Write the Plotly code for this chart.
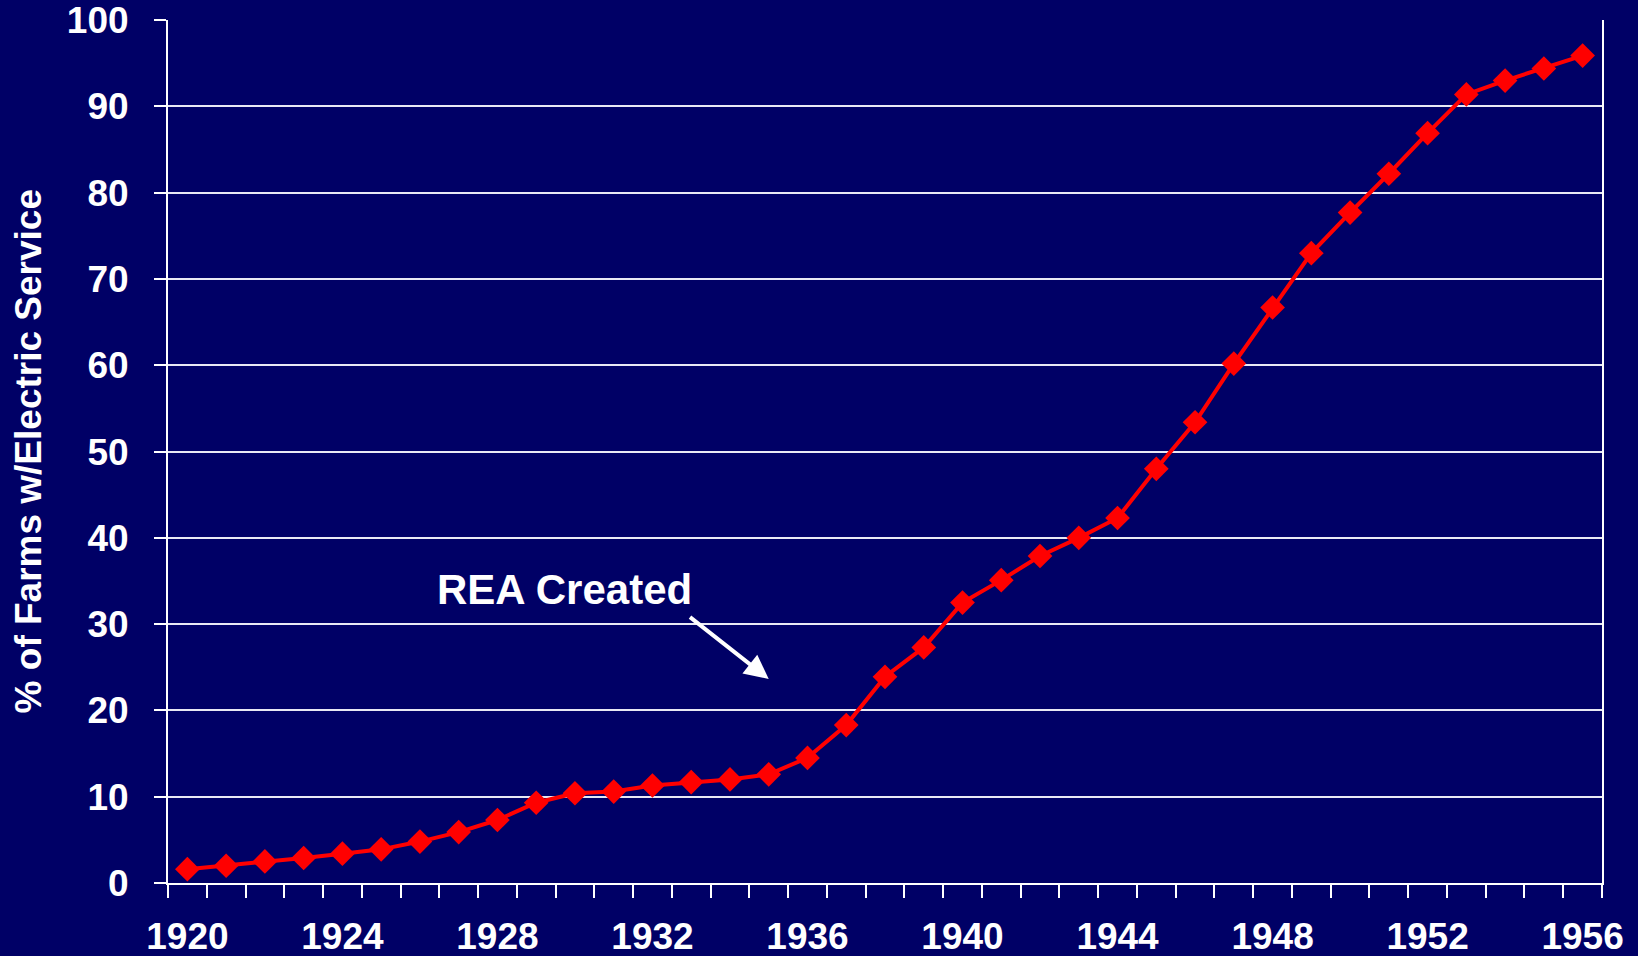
import plotly.graph_objects as go

years = list(range(1920, 1957))
pct_electric = [1.6, 2.0, 2.5, 2.9, 3.4, 3.9, 4.8, 5.9, 7.3, 9.3,
                10.4, 10.6, 11.3, 11.7, 12.0, 12.6, 14.5, 18.3, 23.9, 27.3,
                32.5, 35.1, 37.9, 40.0, 42.3, 48.0, 53.4, 60.2, 66.7, 73.0,
                77.7, 82.2, 86.9, 91.4, 93.0, 94.4, 95.9]
x_tick_years = [1920, 1924, 1928, 1932, 1936, 1940, 1944, 1948, 1952, 1956]
y_ticks = list(range(0, 101, 10))

BG = "#000066"
FONT = "Liberation Sans, Arial, sans-serif"

fig = go.Figure()
fig.add_trace(go.Scatter(
    x=years, y=pct_electric, mode="lines+markers",
    line=dict(color="#FF0000", width=4),
    marker=dict(symbol="diamond", size=19, color="#FF0000"),
    showlegend=False, hoverinfo="x+y",
))

fig.update_layout(
    template="none",
    width=1638, height=956,
    paper_bgcolor=BG, plot_bgcolor=BG,
    margin=dict(l=168, r=36, t=20, b=73, autoexpand=False),
    font=dict(family=FONT, color="white"),
    xaxis=dict(
        automargin=False,
        range=[years[0] - 0.5, years[-1] + 0.5],
        tickvals=x_tick_years, ticktext=[str(v) for v in x_tick_years],
        ticks="", showgrid=False, zeroline=False,
        showline=True, linecolor="white", linewidth=2,
        tickfont=dict(size=37, family=FONT, color="white", weight="bold"),
        ticklabelstandoff=20,
        minor=dict(tick0=years[0] - 0.5, dtick=1, ticks="outside",
                   ticklen=13, tickwidth=2, tickcolor="white", showgrid=False),
    ),
    yaxis=dict(
        automargin=False,
        range=[0, 100.02], tickvals=y_ticks,
        ticks="outside", ticklen=12, tickwidth=2, tickcolor="white",
        showgrid=True, gridcolor="#E8E8F4", gridwidth=2, zeroline=False,
        showline=True, linecolor="white", linewidth=2, mirror=True,
        tickfont=dict(size=37, family=FONT, color="white", weight="bold"),
        ticklabelstandoff=18,
    ),
)

fig.add_annotation(
    xref="paper", yref="paper", x=-0.097, y=0.5,
    text="<b>% of Farms w/Electric Service</b>", textangle=-90,
    showarrow=False, font=dict(size=37, family=FONT, color="white"),
    xanchor="center", yanchor="middle",
)
fig.add_annotation(
    x=1929.74, y=34.0, text="<b>REA Created</b>", showarrow=False,
    font=dict(size=42, family=FONT, color="white"),
    xanchor="center", yanchor="middle",
)
fig.add_annotation(
    x=1935.0, y=23.65, ax=1932.93, ay=30.95, axref="x", ayref="y",
    text="", showarrow=True, arrowhead=2, arrowsize=1.2, arrowwidth=4,
    arrowcolor="white",
)

fig.write_html(
    "out.html",
    config={"displayModeBar": False},
    post_script="document.body.style.margin='0';"
                "document.body.style.background='#000066';",
)
